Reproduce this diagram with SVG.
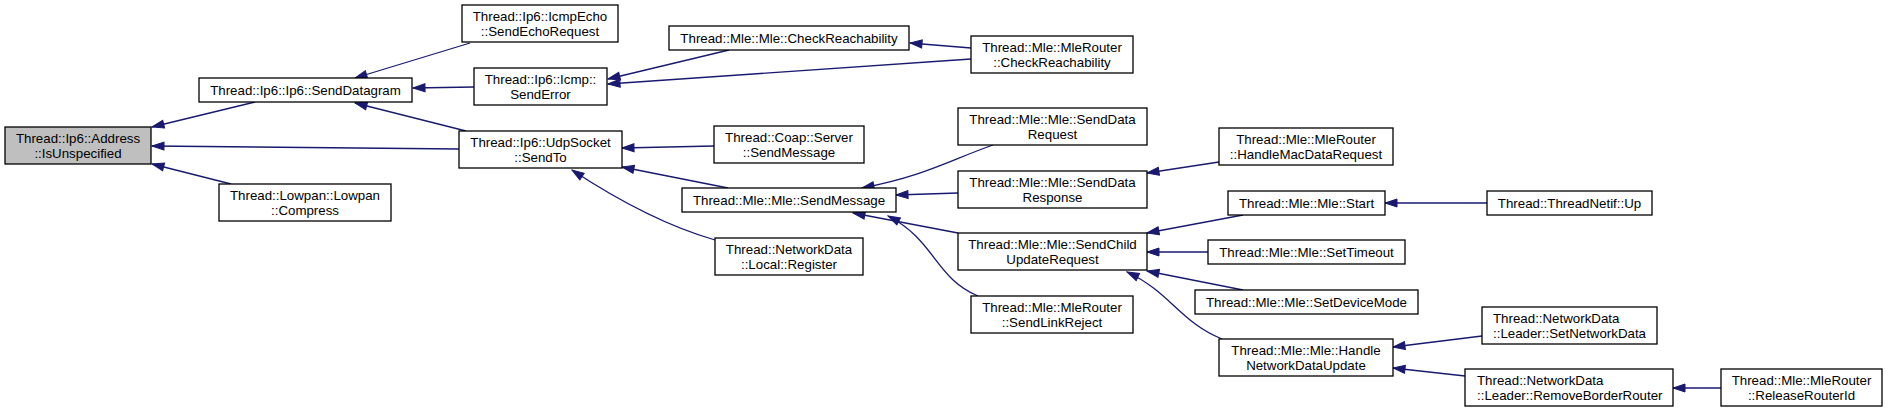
<svg xmlns="http://www.w3.org/2000/svg" width="1888" height="413" viewBox="0 0 1888 413">
<defs>
<style>
.n rect{fill:#fff;stroke:#000;stroke-width:1.3}
.n.hl rect{fill:#bfbfbf}
.n text{font-family:"Liberation Sans",Arial,Helvetica,sans-serif;font-size:13.3px;fill:#000;text-anchor:middle}
.n text.l{text-anchor:start}
#edges path{fill:none;stroke:#191970;stroke-width:1.3;marker-end:url(#ah)}
</style>
<marker id="ah" viewBox="0 0 14 10" refX="13" refY="5" markerWidth="14" markerHeight="10" markerUnits="userSpaceOnUse" orient="auto">
<path d="M1,1 L13,5 L1,9 z" fill="#191970" stroke="#191970" stroke-width="1"/>
</marker>
</defs>
<rect width="1888" height="413" fill="#fff"/>
<g id="edges">
<path d="M255,102 L152,127"/>
<path d="M459,149 L152,146"/>
<path d="M231,184 L152,164"/>
<path d="M470,43 L355,78"/>
<path d="M474,87 L413,88"/>
<path d="M466,131 L355,103"/>
<path d="M729,50 L608,79"/>
<path d="M971,48 L910,43"/>
<path d="M971,59 L608,84"/>
<path d="M714,146 L622,148"/>
<path d="M728,188 L622,167"/>
<path d="M715,240 C670,227 625,205 572,170"/>
<path d="M993,145 C950,160 925,176 862,188"/>
<path d="M958,193 L896,195"/>
<path d="M958,233 L853,213"/>
<path d="M978,296 C935,278 935,240 888,216"/>
<path d="M1219,162 L1147,173"/>
<path d="M1243,215 L1147,233"/>
<path d="M1208,252 L1147,252"/>
<path d="M1243,290 L1147,271"/>
<path d="M1222,339 C1180,322 1170,292 1127,272"/>
<path d="M1487,203 L1385,203"/>
<path d="M1482,336 L1393,347"/>
<path d="M1465,376 L1393,368"/>
<path d="M1721,388 L1673,388"/>
</g>
<g id="n0" class="n hl"><rect x="5" y="127" width="146" height="37"/><text x="78" y="142.5">Thread::Ip6::Address</text><text x="78" y="157.5">::IsUnspecified</text></g>
<g id="n1" class="n"><rect x="199" y="78" width="213" height="24"/><text x="305.5" y="94.5">Thread::Ip6::Ip6::SendDatagram</text></g>
<g id="n2" class="n"><rect x="219" y="184" width="172" height="37"/><text x="305" y="199.5">Thread::Lowpan::Lowpan</text><text x="305" y="214.5">::Compress</text></g>
<g id="n3" class="n"><rect x="462" y="5" width="156" height="37"/><text x="540" y="20.5">Thread::Ip6::IcmpEcho</text><text x="540" y="35.5">::SendEchoRequest</text></g>
<g id="n4" class="n"><rect x="474" y="68" width="133" height="37"/><text x="540.5" y="83.5">Thread::Ip6::Icmp::</text><text x="540.5" y="98.5">SendError</text></g>
<g id="n5" class="n"><rect x="459" y="131" width="163" height="37"/><text x="540.5" y="146.5">Thread::Ip6::UdpSocket</text><text x="540.5" y="161.5">::SendTo</text></g>
<g id="n6" class="n"><rect x="669" y="26" width="240" height="24"/><text x="789" y="42.5">Thread::Mle::Mle::CheckReachability</text></g>
<g id="n7" class="n"><rect x="714" y="126" width="150" height="37"/><text x="789" y="141.5">Thread::Coap::Server</text><text x="789" y="156.5">::SendMessage</text></g>
<g id="n8" class="n"><rect x="682" y="188" width="214" height="24"/><text x="789" y="204.5">Thread::Mle::Mle::SendMessage</text></g>
<g id="n9" class="n"><rect x="715" y="238" width="148" height="37"/><text x="789" y="253.5">Thread::NetworkData</text><text x="789" y="268.5">::Local::Register</text></g>
<g id="n10" class="n"><rect x="971" y="36" width="162" height="37"/><text x="1052" y="51.5">Thread::Mle::MleRouter</text><text x="1052" y="66.5">::CheckReachability</text></g>
<g id="n11" class="n"><rect x="958" y="108" width="189" height="37"/><text x="1052.5" y="123.5">Thread::Mle::Mle::SendData</text><text x="1052.5" y="138.5">Request</text></g>
<g id="n12" class="n"><rect x="958" y="171" width="189" height="37"/><text x="1052.5" y="186.5">Thread::Mle::Mle::SendData</text><text x="1052.5" y="201.5">Response</text></g>
<g id="n13" class="n"><rect x="958" y="233" width="189" height="37"/><text x="1052.5" y="248.5">Thread::Mle::Mle::SendChild</text><text x="1052.5" y="263.5">UpdateRequest</text></g>
<g id="n14" class="n"><rect x="971" y="296" width="162" height="37"/><text x="1052" y="311.5">Thread::Mle::MleRouter</text><text x="1052" y="326.5">::SendLinkReject</text></g>
<g id="n15" class="n"><rect x="1219" y="128" width="174" height="37"/><text x="1306" y="143.5">Thread::Mle::MleRouter</text><text x="1306" y="158.5">::HandleMacDataRequest</text></g>
<g id="n16" class="n"><rect x="1228" y="191" width="157" height="24"/><text x="1306.5" y="207.5">Thread::Mle::Mle::Start</text></g>
<g id="n17" class="n"><rect x="1208" y="240" width="197" height="24"/><text x="1306.5" y="256.5">Thread::Mle::Mle::SetTimeout</text></g>
<g id="n18" class="n"><rect x="1195" y="290" width="223" height="24"/><text x="1306.5" y="306.5">Thread::Mle::Mle::SetDeviceMode</text></g>
<g id="n19" class="n"><rect x="1219" y="339" width="174" height="37"/><text x="1306" y="354.5">Thread::Mle::Mle::Handle</text><text x="1306" y="369.5">NetworkDataUpdate</text></g>
<g id="n20" class="n"><rect x="1487" y="191" width="165" height="24"/><text x="1569.5" y="207.5">Thread::ThreadNetif::Up</text></g>
<g id="n21" class="n"><rect x="1482" y="307" width="175" height="37"/><text class="l" x="1493" y="322.5">Thread::NetworkData</text><text class="l" x="1493" y="337.5">::Leader::SetNetworkData</text></g>
<g id="n22" class="n"><rect x="1465" y="369" width="208" height="37"/><text class="l" x="1477" y="384.5">Thread::NetworkData</text><text class="l" x="1477" y="399.5">::Leader::RemoveBorderRouter</text></g>
<g id="n23" class="n"><rect x="1721" y="369" width="161" height="37"/><text x="1801.5" y="384.5">Thread::Mle::MleRouter</text><text x="1801.5" y="399.5">::ReleaseRouterId</text></g>
</svg>
